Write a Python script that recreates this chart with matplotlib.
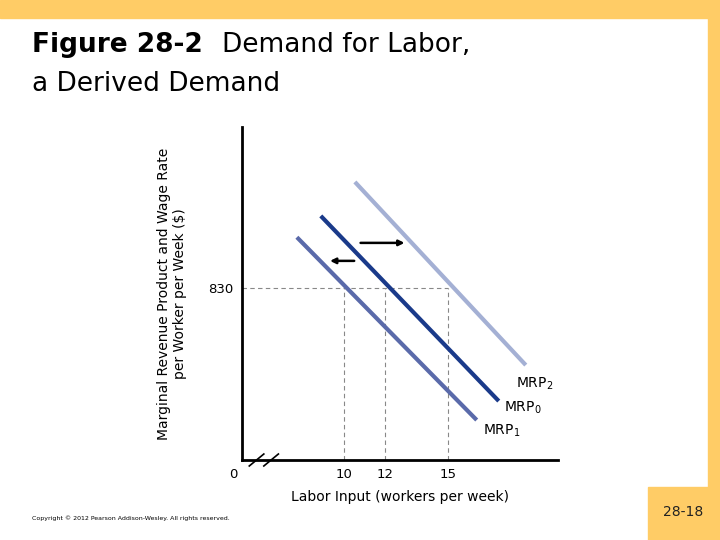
import matplotlib.pyplot as plt
from matplotlib.patches import Rectangle

# curve endpoints in chart units (x: workers per week, y: relative wage scale)
mrp1_x = [7.74, 16.39]
mrp1_y = [66.9, 12.0]
mrp0_x = [8.89, 17.45]
mrp0_y = [73.3, 17.7]
mrp2_x = [10.53, 18.75]
mrp2_y = [83.5, 28.5]
wage_level = 51.6
wage_label = "830"
labor_ticks = [10, 12, 15]

W, H = 720, 540
fig = plt.figure(figsize=(7.2, 5.4), dpi=100)

# slide background
bg = fig.add_axes([0, 0, 1, 1])
bg.set_xlim(0, W)
bg.set_ylim(H, 0)
bg.axis("off")
yellow = "#ffcc66"
bg.add_patch(Rectangle((0, 0), W, 18, color=yellow))
bg.add_patch(Rectangle((708, 0), 12, H, color=yellow))
bg.add_patch(Rectangle((648, 487), 72, 53, color=yellow))
bg.text(683, 512, "28-18", ha="center", va="center", fontsize=10, color="#222")
bg.text(32, 45, "Figure 28-2", fontsize=19, fontweight="bold", va="center")
bg.text(222, 45, "Demand for Labor,", fontsize=19, va="center")
bg.text(32, 84, "a Derived Demand", fontsize=19, va="center")
bg.text(32, 518, "Copyright © 2012 Pearson Addison-Wesley. All rights reserved.",
        fontsize=4.5, va="center")

# chart axes in pixel box x 242..558, y 127..460
ax = fig.add_axes([242 / W, 1 - 460 / H, (558 - 242) / W, (460 - 127) / H])
ax.set_xlim(5.1, 20.3)
ax.set_ylim(0, 100)
ax.patch.set_alpha(0)
for s in ["top", "right"]:
    ax.spines[s].set_visible(False)
ax.spines["left"].set_linewidth(2)
ax.spines["bottom"].set_linewidth(2)
ax.set_xticks(labor_ticks)
ax.set_yticks([wage_level])
ax.set_yticklabels([wage_label])
ax.tick_params(length=0, labelsize=9.5, pad=6)

for t in labor_ticks:
    ax.plot([t, t], [0, wage_level], ls="--", color="#888", lw=0.8, dashes=(4, 3))
ax.plot([5.1, 15], [wage_level, wage_level], ls="--", color="#888", lw=0.8, dashes=(4, 3))

ax.plot(mrp2_x, mrp2_y, color="#a4b0d4", lw=3, solid_capstyle="butt")
ax.plot(mrp1_x, mrp1_y, color="#5a6aaa", lw=3, solid_capstyle="butt")
ax.plot(mrp0_x, mrp0_y, color="#1a3a8a", lw=3, solid_capstyle="butt")

ax.annotate("", xy=(13.05, 65.2), xytext=(10.67, 65.2),
            arrowprops=dict(arrowstyle="-|>", color="black", lw=1.8, mutation_scale=8))
ax.annotate("", xy=(9.2, 59.8), xytext=(10.63, 59.8),
            arrowprops=dict(arrowstyle="-|>", color="black", lw=1.8, mutation_scale=8))

ax.text(18.3, 22.8, "MRP$_2$", fontsize=10, va="center")
ax.text(17.7, 15.8, "MRP$_0$", fontsize=10, va="center")
ax.text(16.7, 8.7, "MRP$_1$", fontsize=10, va="center")

# axis break marks and origin
for bx in [5.8, 6.5]:
    ax.plot([bx - 0.35, bx + 0.35], [-1.8, 1.8], color="black", lw=1.2, clip_on=False)
ax.text(4.7, -4.5, "0", fontsize=9.5, ha="center", va="center")

ax.set_xlabel("Labor Input (workers per week)", fontsize=10, labelpad=6)
ax.set_ylabel("Marginal Revenue Product and Wage Rate\nper Worker per Week ($)",
              fontsize=10, labelpad=4)
ax.yaxis.set_label_coords(-0.175, 0.5)

fig.savefig("out.png", dpi=100)
